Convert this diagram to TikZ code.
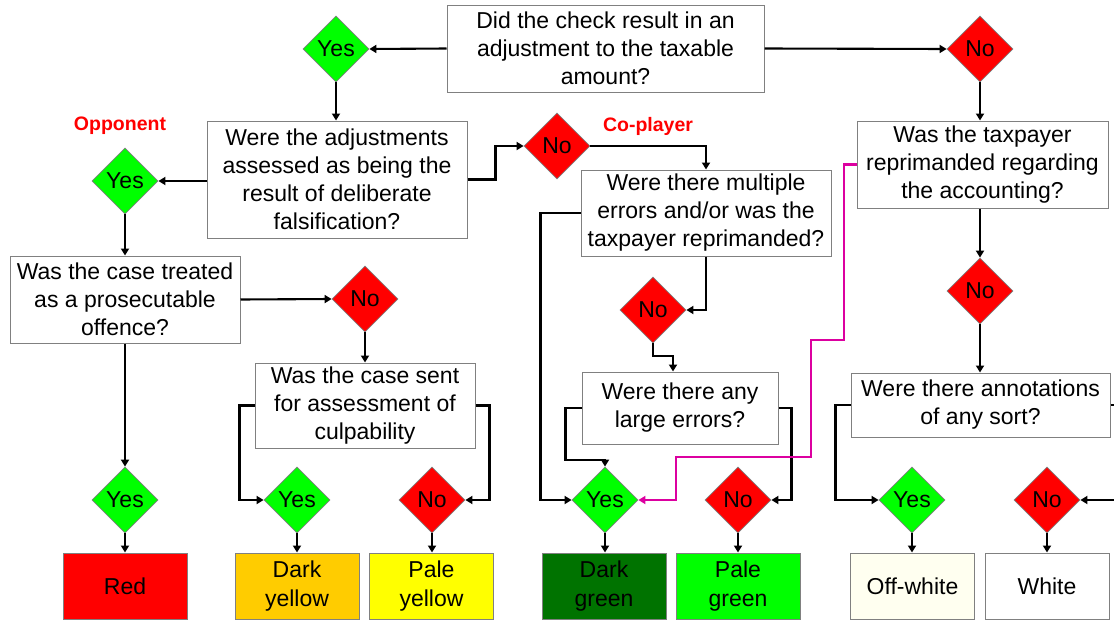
\documentclass[tikz,border=0pt]{standalone}
\usepackage{fontspec}
\setmainfont{Liberation Sans}
\usetikzlibrary{shapes.geometric,arrows.meta}
\definecolor{boxgray}{RGB}{128,128,128}
\definecolor{vgreen}{RGB}{0,255,0}
\definecolor{vred}{RGB}{255,0,0}
\definecolor{dgreen}{RGB}{0,115,0}
\definecolor{dyellow}{RGB}{255,204,0}
\definecolor{pyellow}{RGB}{255,255,0}
\definecolor{offwhite}{RGB}{255,255,240}
\definecolor{magline}{RGB}{220,0,160}
\begin{document}
\begin{tikzpicture}[x=1pt,y=-1pt,
  q/.style={draw=boxgray,line width=1pt,fill=white,align=center,inner sep=0pt,font=\fontsize{23}{28}\selectfont},
  dia/.style={diamond,draw=boxgray,line width=0.8pt,minimum width=66pt,minimum height=66pt,inner sep=0pt,font=\fontsize{23}{28}\selectfont},
  yesd/.style={dia,fill=vgreen},
  nod/.style={dia,fill=vred},
  res/.style={draw=boxgray,line width=1pt,minimum width=124pt,minimum height=66pt,inner sep=0pt,align=center,font=\fontsize{23}{29}\selectfont},
  conn/.style={line width=2.1pt,-{Triangle[length=7pt,width=8pt]}},
  plain/.style={line width=2.1pt},
  magc/.style={line width=2.1pt,draw=magline,-{Triangle[length=7pt,width=8pt]},color=magline},
  lab/.style={text=vred,font=\fontsize{19.5}{22}\selectfont\bfseries}
]
\useasboundingbox (0,0) rectangle (1114,621);
\fill[white] (0,0) rectangle (1114,621);

% question boxes
\node[q,minimum width=317pt,minimum height=87pt] (top) at (605.5,48.5) {Did the check result in an\\adjustment to the taxable\\amount?};
\node[q,minimum width=260pt,minimum height=117pt] (adj) at (337,179.5) {Were the adjustments\\assessed as being the\\result of deliberate\\falsification?};
\node[q,minimum width=250pt,minimum height=86pt] (mult) at (706,213) {Were there multiple\\errors and/or was the\\taxpayer reprimanded?};
\node[q,minimum width=196pt,minimum height=72pt] (large) at (680,408) {Were there any\\large errors?};
\node[q,minimum width=251pt,minimum height=87pt] (tax) at (982.5,164.5) {Was the taxpayer\\reprimanded regarding\\the accounting?};
\node[q,minimum width=259pt,minimum height=64pt] (ann) at (980.5,405) {Were there annotations\\of any sort?};
\node[q,minimum width=230pt,minimum height=87pt] (treat) at (125,299.5) {Was the case treated\\as a prosecutable\\offence?};
\node[q,minimum width=220pt,minimum height=85pt] (sent) at (365,405.5) {Was the case sent\\for assessment of\\culpability};

% diamonds
\node[yesd] (yes1) at (336,49) {Yes};
\node[nod] (no1) at (980,49) {No};
\node[yesd] (yes2) at (125,181) {Yes};
\node[nod] (no2) at (557,146) {No};
\node[nod] (no3) at (653,310) {No};
\node[nod] (no5) at (980,291) {No};
\node[nod] (no7) at (365,299) {No};
\node[yesd] (yes9) at (125,500) {Yes};
\node[yesd] (yes8) at (297,500) {Yes};
\node[nod] (no8) at (432,500) {No};
\node[yesd] (yes4) at (605,500) {Yes};
\node[nod] (no4) at (738,500) {No};
\node[yesd] (yes6) at (912,500) {Yes};
\node[nod] (no6) at (1047,500) {No};

% result boxes
\node[res,fill=vred] (red) at (125,586) {Red};
\node[res,fill=dyellow] (dy) at (297,586) {Dark\\yellow};
\node[res,fill=pyellow] (py) at (431.5,586) {Pale\\yellow};
\node[res,fill=dgreen] (dg) at (604,586) {Dark\\green};
\node[res,fill=vgreen] (pg) at (738,586) {Pale\\green};
\node[res,fill=offwhite] (ow) at (912.5,586) {Off-white};
\node[res,fill=white] (wh) at (1047,586) {White};

% labels
\node[lab] (opp) at (120,126) {Opponent};
\node[lab] (cop) at (648,126) {Co-player};

% edge coordinates
\coordinate (edgeA) at (1114,405);
\coordinate (edgeB) at (1114,500);
\coordinate (m1) at (844,340);
\coordinate (m2) at (811,457);
\coordinate (m3) at (676,500);

% connectors
\draw[conn] (top.west) -- (yes1.east);
\draw[conn] (top.east) -- (no1.west);
\draw[conn] (yes1.south) -- (adj.north -| yes1.south);
\draw[conn] (no1.south) -- (tax.north -| no1.south);
\draw[conn] (adj.west |- yes2.east) -- (yes2.east);
\draw[conn] (adj.east) -- ++(28,0) |- (no2.west);
\draw[conn] (no2.east) -| (mult.north);
\draw[conn] (mult.west) -- ++(-40,0) |- (yes4.west);
\draw[conn] (mult.south) |- (no3.east);
\draw[conn] (no3.south) -- ++(0,13) -| ([xshift=-7pt]large.north);
\draw[conn] (large.west) -- ++(-16,0) -- ++(0,52) -| (yes4.north);
\draw[conn] (large.east) -- ++(13,0) |- (no4.east);
\draw[magc] (tax.west) -| (m1) -| (m2) -| (m3) -- (yes4.east);
\draw[conn] (tax.south -| no5.north) -- (no5.north);
\draw[conn] (no5.south) -- (ann.north -| no5.south);
\draw[conn] (ann.west) -- ++(-15,0) |- (yes6.west);
\draw[plain] (ann.east) -- (edgeA);
\draw[conn] (edgeB) -- (no6.east);
\draw[conn] (yes2.south) -- (treat.north);
\draw[conn] (treat.east) -- (no7.west);
\draw[conn] (no7.south) -- (sent.north);
\draw[conn] (sent.west) -- ++(-15,0) |- (yes8.west);
\draw[conn] (sent.east) -- ++(14,0) |- (no8.east);
\draw[conn] (treat.south) -- (yes9.north);
\draw[conn] (yes9.south) -- (red.north);
\draw[conn] (yes8.south) -- (dy.north);
\draw[conn] (no8.south) -- (py.north -| no8.south);
\draw[conn] (yes4.south) -- (dg.north -| yes4.south);
\draw[conn] (no4.south) -- (pg.north);
\draw[conn] (yes6.south) -- (ow.north -| yes6.south);
\draw[conn] (no6.south) -- (wh.north);
\end{tikzpicture}
\end{document}
